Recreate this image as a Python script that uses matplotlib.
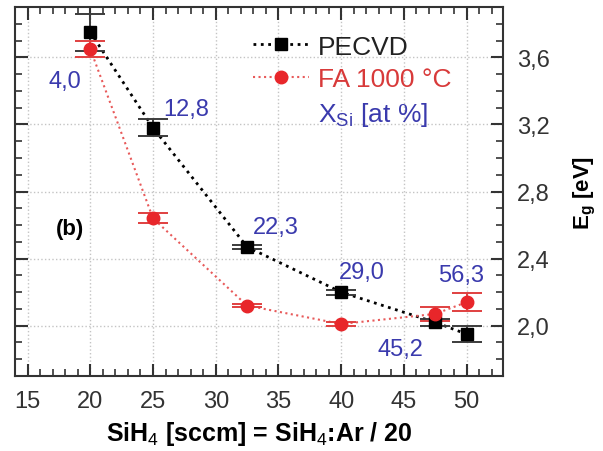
import numpy as np
import matplotlib.pyplot as plt
from matplotlib.ticker import MultipleLocator, FuncFormatter
from matplotlib.lines import Line2D

plt.rcParams['font.family'] = ['Liberation Sans', 'DejaVu Sans']
plt.rcParams['mathtext.fontset'] = 'custom'
plt.rcParams['mathtext.rm'] = 'Liberation Sans'
plt.rcParams['mathtext.bf'] = 'Liberation Sans:bold'

# SiH4 flow [sccm]
sih4 = [20, 25, 32.5, 40, 47.5, 50]

# optical gap, as deposited (PECVD) and after furnace anneal at 1000 C
eg_pecvd = [3.75, 3.18, 2.47, 2.20, 2.02, 1.95]
err_pecvd = [0.11, 0.05, 0.012, 0.015, 0.02, 0.05]
eg_fa = [3.65, 2.64, 2.12, 2.01, 2.07, 2.14]
err_fa = [0.05, 0.03, 0.01, 0.01, 0.04, 0.055]

# Si content of each layer [at %]
x_si = ['4,0', '12,8', '22,3', '29,0', '45,2', '56,3']
x_si_pos = [(18.0, 3.46), (27.65, 3.29), (34.8, 2.59), (41.65, 2.32),
            (44.75, 1.86), (49.6, 2.30)]

blue = '#3a3aad'
red = '#e8262a'

fig = plt.figure(figsize=(6.03, 4.52), dpi=100)
ax = fig.add_axes([0.025, 0.166, 0.809, 0.816])

ax.errorbar(sih4, eg_pecvd, yerr=err_pecvd, fmt='s', color='black',
            ms=9, ecolor='#3c3c3c', elinewidth=1.4, capsize=11, capthick=1.4,
            zorder=4)
ax.plot(sih4, eg_pecvd, ':', color='black', lw=2, zorder=3)
ax.errorbar(sih4, eg_fa, yerr=err_fa, fmt='o', color=red,
            ms=9, ecolor='#e04040', elinewidth=1.4, capsize=11, capthick=1.4,
            zorder=4)
ax.plot(sih4, eg_fa, ':', color='#e85a5a', lw=1.5, zorder=3)

for lab, (tx, ty) in zip(x_si, x_si_pos):
    ax.text(tx, ty, lab, color=blue, fontsize=17, ha='center', va='center')

ax.text(18.4, 2.58, '(b)', fontsize=16, fontweight='bold', ha='center',
        va='center')

ax.set_xlim(14.0, 52.9)
ax.set_ylim(1.70, 3.90)
ax.xaxis.set_major_locator(MultipleLocator(5))
ax.xaxis.set_minor_locator(MultipleLocator(1))
ax.yaxis.set_major_locator(MultipleLocator(0.4))
ax.yaxis.set_minor_locator(MultipleLocator(0.1))
ax.yaxis.set_major_formatter(FuncFormatter(lambda v, p: f'{v:.1f}'.replace('.', ',')))

ax.tick_params(which='both', direction='in', top=True, right=True,
               left=True, bottom=True, labelleft=False, labelright=True,
               colors='#333333', labelcolor='#333333', labelsize=17)
ax.tick_params(which='major', length=9, width=1.5, pad=10)
ax.tick_params(which='minor', length=5, width=1.2)
ax.yaxis.set_label_position('right')
for s in ax.spines.values():
    s.set_linewidth(1.5)
    s.set_color('#333333')

ax.grid(True, which='major', ls=':', color='#c4c4c4', lw=1)
ax.set_axisbelow(True)

ax.set_xlabel(r'SiH$_4$ [sccm] = SiH$_4$:Ar / 20', fontsize=18,
              fontweight='bold', labelpad=5)
ax.set_ylabel(r'E$_\mathbf{g}$ [eV]', fontsize=16, fontweight='bold',
              labelpad=16)

handles = [Line2D([], [], ls=':', lw=2, color='black', marker='s', ms=9),
           Line2D([], [], ls=':', lw=1.5, color='#e85a5a', marker='o', ms=9,
                  mfc=red, mec=red),
           Line2D([], [], ls='none')]
leg = ax.legend(handles, ['PECVD', 'FA 1000 °C', r'X$_{\mathrm{Si}}$ [at %]'],
                loc='upper left', bbox_to_anchor=(0.44, 0.99), frameon=False,
                fontsize=19, handlelength=2.1, handletextpad=0.35,
                labelspacing=0.33, labelcolor=['#222222', '#d83a3a', blue])

fig.savefig('out.png', dpi=100)
